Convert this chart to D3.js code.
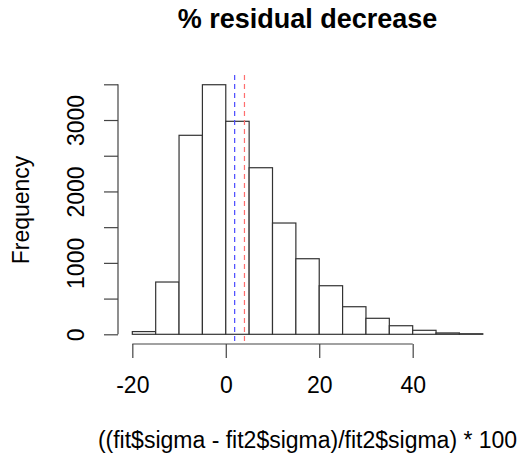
<!DOCTYPE html>
<html>
<head>
<meta charset="utf-8">
<script src="https://cdn.jsdelivr.net/npm/d3@7"></script>
<style>
	body { margin: 0; background: #fff; }
	svg text { font-family: 'Liberation Sans', Arial, sans-serif; fill: #000; }
</style>
</head>
<body>
<div id="chart"></div>
<script>

// histogram bins (left edges, width 5) and counts
const binStarts = [-20, -15, -10, -5, 0, 5, 10, 15, 20, 25, 30, 35, 40, 45, 50];
const binCounts = [38, 732, 2786, 3494, 2982, 2332, 1558, 1058, 680, 386, 224, 120, 56, 19, 8];
const binWidth = 5;

const xTicks = [-20, 0, 20, 40];
const yTicks = [0, 500, 1000, 1500, 2000, 2500, 3000, 3500];
const yLabelled = [0, 1000, 2000, 3000];

// vertical reference lines
const refLines = [
	{ value: 1.9, color: '#4a4aff' },
	{ value: 4.0, color: '#ff6e6e' }
];

const titleText = '% residual decrease';
const xTitle = '((fit$sigma - fit2$sigma)/fit2$sigma) * 100';
const yTitle = 'Frequency';


function Histogram(options) {
	this.element = options.element;
	this.width = 523;
	this.height = 459;
	this.draw();
}

Histogram.prototype.draw = function() {
	this.createSVG();
	this.createScales();
	this.createBars();
	this.createLines();
	this.createAxes();
	this.createLabels();
}

Histogram.prototype.createSVG = function() {
	this.svg = d3.select(this.element)
		.append('svg')
			.attr('width', this.width)
			.attr('height', this.height);
}

Histogram.prototype.createScales = function() {
	// plot region: usr is the break range padded 4% each side
	this.xScale = d3.scaleLinear()
		.domain([-23, 58])
		.range([118.3, 496.8]);

	this.yScale = d3.scaleLinear()
		.domain([0, 3500])
		.range([334.3, 84.3]);

	this.plotTop = 75;
	this.plotBottom = 345;
}

Histogram.prototype.createBars = function() {
	let that = this;

	this.svg.append('g')
		.selectAll('rect')
		.data(binStarts)
		.enter().append('rect')
			.attr('x', function(d) { return that.xScale(d); })
			.attr('y', function(d, i) { return that.yScale(binCounts[i]); })
			.attr('width', function(d) { return that.xScale(d + binWidth) - that.xScale(d); })
			.attr('height', function(d, i) { return that.yScale(0) - that.yScale(binCounts[i]); })
			.attr('fill', '#fff')
			.attr('stroke', '#333')
			.attr('stroke-width', 1.2);
}

Histogram.prototype.createLines = function() {
	let that = this;

	this.svg.append('g')
		.selectAll('line')
		.data(refLines)
		.enter().append('line')
			.attr('x1', function(d) { return that.xScale(d.value); })
			.attr('x2', function(d) { return that.xScale(d.value); })
			.attr('y1', this.plotTop)
			.attr('y2', this.plotBottom)
			.attr('stroke', function(d) { return d.color; })
			.attr('stroke-width', 1.2)
			.attr('stroke-dasharray', '5,4');
}

Histogram.prototype.createAxes = function() {
	let that = this;

	// x axis, drawn one line below the plot region like R does
	let xAxis = d3.axisBottom(this.xScale)
		.tickValues(xTicks)
		.tickSize(14)
		.tickSizeOuter(0)
		.tickFormat(d3.format('d'));

	let gx = this.svg.append('g')
		.attr('transform', `translate(0, ${this.plotBottom - 1})`)
		.call(xAxis);

	gx.select('.domain').remove();
	gx.append('line')
		.attr('x1', this.xScale(xTicks[0]))
		.attr('x2', this.xScale(xTicks[xTicks.length - 1]))
		.attr('stroke', '#444')
		.attr('stroke-width', 1.2);
	gx.selectAll('.tick line').attr('stroke', '#444').attr('stroke-width', 1.2);
	gx.selectAll('.tick text')
		.attr('y', 49)
		.attr('dy', null)
		.style('font-size', '23px')
		.style('font-family', "'Liberation Sans', Arial, sans-serif")
		.text(function(d) { return d < 0 ? '-' + Math.abs(d) : d; });

	// y axis with labels on every other tick, rotated like R's las=0
	let yAxis = d3.axisLeft(this.yScale)
		.tickValues(yTicks)
		.tickSize(14)
		.tickSizeOuter(0)
		.tickFormat(function(d) { return yLabelled.includes(d) ? d : ''; });

	let gy = this.svg.append('g')
		.attr('transform', 'translate(118, 0)')
		.call(yAxis);

	gy.select('.domain').remove();
	gy.append('line')
		.attr('y1', this.yScale(yTicks[0]))
		.attr('y2', this.yScale(yTicks[yTicks.length - 1]))
		.attr('stroke', '#444')
		.attr('stroke-width', 1.2);
	gy.selectAll('.tick line').attr('stroke', '#444').attr('stroke-width', 1.2);
	gy.selectAll('.tick text')
		.attr('x', null)
		.attr('dy', null)
		.attr('text-anchor', 'middle')
		.attr('transform', 'translate(-34, 0) rotate(-90)')
		.style('font-size', '23px')
		.style('font-family', "'Liberation Sans', Arial, sans-serif");
}

Histogram.prototype.createLabels = function() {
	let cx = (this.xScale.range()[0] + this.xScale.range()[1]) / 2;

	this.svg.append('text')
		.attr('x', cx)
		.attr('y', 28)
		.attr('text-anchor', 'middle')
		.style('font-size', '27px')
		.style('font-weight', 'bold')
		.text(titleText);

	this.svg.append('text')
		.attr('x', cx)
		.attr('y', 448)
		.attr('text-anchor', 'middle')
		.style('font-size', '23px')
		.text(xTitle);

	this.svg.append('text')
		.attr('transform', `translate(29, ${(this.plotTop + this.plotBottom) / 2}) rotate(-90)`)
		.attr('text-anchor', 'middle')
		.style('font-size', '23px')
		.text(yTitle);
}

new Histogram({ element: '#chart' });

</script>
</body>
</html>
